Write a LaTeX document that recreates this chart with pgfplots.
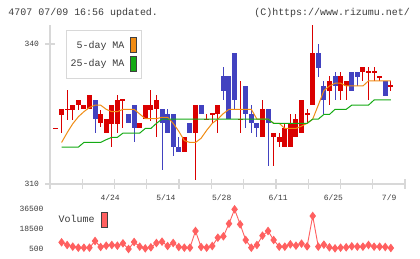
\documentclass[border=0pt]{standalone}
\usepackage{fontspec}
\usepackage{pgfplots}
\usepackage{pgfplotstable}
\pgfplotsset{compat=1.18}
\newfontfamily\mono{Liberation Mono}
\newcommand\monosmall{\mono\fontsize{8}{9}\selectfont}
\newcommand\monolarge{\mono\fontsize{10}{12}\selectfont}

\definecolor{upred}{RGB}{218,0,0}
\definecolor{downblue}{RGB}{66,66,192}
\definecolor{maorange}{RGB}{240,140,20}
\definecolor{magreen}{RGB}{20,170,20}
\definecolor{volred}{RGB}{255,96,96}
\definecolor{axisgray}{RGB}{216,216,216}
\definecolor{txt}{RGB}{60,60,60}

% daily candles: index, open, high, low, close
\pgfplotstableread{
i o h l c
0 321.9 321.9 321.9 321.9
1 324.8 326.1 320.9 326.1
2 326.0 330.1 323.7 326.0
3 325.9 326.9 323.7 326.9
4 326.9 328.0 325.9 328.0
5 326.0 326.9 326.0 326.9
6 326.0 329.1 326.0 329.1
8 323.0 325.9 322.3 325.0
9 320.9 323.9 320.9 323.9
10 322.9 326.9 317.9 326.9
11 322.9 329.1 320.9 328.0
12 328.0 328.0 321.9 328.0
15 321.9 323.0 321.9 323.0
16 323.9 326.9 323.9 326.9
17 325.9 330.1 323.4 326.9
18 326.0 329.1 320.0 328.0
23 316.9 320.0 316.9 320.0
25 320.9 326.9 310.9 326.9
27 323.9 325.0 323.9 323.9
28 325.0 325.0 323.0 325.0
29 325.0 326.9 320.9 326.9
33 323.9 332.1 320.9 323.9
37 320.0 328.0 320.0 326.0
39 320.0 320.9 313.9 320.9
40 318.9 320.9 317.9 320.0
41 317.9 323.0 317.9 321.9
42 317.9 324.9 317.9 323.0
43 320.0 324.9 320.0 323.9
44 320.9 328.0 320.9 328.0
45 325.0 326.0 323.0 325.0
46 326.9 344.0 326.9 338.0
49 330.0 333.1 326.9 332.1
51 330.0 334.1 328.0 333.1
52 331.0 332.1 328.0 332.1
55 334.1 335.1 332.1 335.1
56 334.1 335.1 328.0 334.1
57 334.1 335.1 332.1 334.1
58 333.0 333.0 332.1 333.0
60 331.0 332.1 330.0 331.0
}\upcandles

\pgfplotstableread{
i o h l c
7 328.0 328.0 320.9 323.9
13 325.0 325.0 323.0 323.0
14 326.9 326.9 318.9 321.9
19 326.0 326.0 312.9 323.0
20 325.0 326.0 320.9 320.9
21 325.0 325.0 315.9 317.9
22 317.9 320.0 316.9 316.9
24 323.0 323.0 320.9 320.9
26 326.9 326.9 325.0 325.0
30 333.1 335.1 328.0 330.0
31 333.1 333.1 323.9 323.9
32 338.0 338.0 325.9 328.0
34 331.0 331.0 321.9 324.9
35 324.9 326.9 321.0 323.0
36 323.0 323.0 320.0 321.9
38 326.0 326.0 313.9 323.0
47 338.0 340.0 333.0 334.9
48 331.0 332.1 324.9 328.0
50 333.1 334.1 328.0 331.0
53 334.1 334.1 330.0 330.0
54 334.1 334.1 331.0 333.0
59 332.1 332.1 328.9 328.9
}\downcandles

% 5-day moving average
\pgfplotstableread{
i v
1 318.9
2 321.0
3 322.9
4 324.4
5 325.5
6 326.4
7 326.9
8 326.9
9 326.0
10 325.5
11 325.5
12 326.0
13 326.0
14 326.0
15 325.0
16 324.0
17 324.0
18 324.0
19 324.3
20 324.3
21 323.0
22 321.3
23 319.3
24 318.9
25 318.9
26 319.8
27 321.5
28 323.0
29 323.9
30 325.1
31 326.0
32 326.0
33 326.0
34 326.0
35 326.0
36 323.9
37 323.9
38 323.9
39 323.0
40 323.0
41 321.9
42 321.9
43 321.9
44 322.4
45 323.0
46 323.9
47 326.9
48 330.0
49 331.0
50 331.6
51 331.6
52 331.0
53 331.0
54 331.0
55 331.0
56 332.1
57 332.1
58 332.1
59 332.1
60 332.1
}\mafive

% 25-day moving average
\pgfplotstableread{
i v
1 317.9
4 317.9
5 318.9
8 318.9
9 319.5
10 320.0
11 320.0
12 320.9
15 320.9
16 321.9
17 321.9
18 323.0
19 323.9
38 323.9
39 323.0
45 323.0
46 323.9
47 323.9
48 324.9
49 324.9
50 326.0
52 326.0
53 326.9
56 326.9
57 328.0
60 328.0
}\matwentyfive

% daily volume
\pgfplotstableread{
i v
1 6500
2 4100
3 2600
4 1700
5 1700
6 1700
7 7700
8 2300
9 3500
10 4100
11 3500
12 5600
13 500
14 6800
15 2600
16 1100
17 2000
18 5900
19 7100
20 3200
21 5900
22 2300
23 1700
24 1700
25 16700
26 2300
27 1700
28 3200
29 10700
30 11900
31 23300
32 36200
33 22700
34 8600
35 1700
36 4100
37 12500
38 16700
39 8600
40 2600
41 2600
42 4700
43 3500
44 5300
45 2900
46 30200
47 2600
48 4400
49 2000
50 1100
51 1700
52 2000
53 2900
54 2600
55 2600
56 4100
57 2600
58 2600
59 2300
60 1400
}\volume

\pgfplotsset{
  candle wick/.style={draw=none, mark=none, forget plot,
    error bars/.cd, y dir=both, y explicit,
    error bar style={draw=#1, line width=1bp}, error mark=none},
  candle body/.style={draw=none, mark=none, forget plot,
    error bars/.cd, y dir=both, y explicit,
    error bar style={draw=#1, line width=5bp}, error mark=none},
}

\begin{document}
\begin{tikzpicture}
\path[use as bounding box, fill=white] (0bp,0bp) rectangle (420bp,259bp);

\node[anchor=west, font=\monolarge, text=txt, inner sep=0] at (8.3bp,246.5bp) {4707 07/09 16:56 updated.};
\node[anchor=east, font=\monolarge, text=txt, inner sep=0] at (410bp,246.5bp) {(C)https://www.rizumu.net/};

% price panel
\begin{axis}[
  at={(50bp,75bp)}, anchor=south west,
  width=355bp, height=159bp, scale only axis,
  xmin=-1.075, xmax=62.54, ymin=310, ymax=344.07,
  axis x line=bottom, axis y line=left,
  axis line style={draw=axisgray, line width=1.2bp, -},
  xtick={-1.075,4.708,10.491,16.275,22.058,27.841,33.624,39.407,45.191,50.974,56.757,62.54},
  xticklabels={},
  extra x ticks={9.7,19.7,29.7,39.8,49.7,59.7},
  extra x tick labels={4/24,5/14,5/28,6/11,6/25,7/9},
  extra x tick style={major tick length=0pt},
  ytick={310,340}, yticklabels={310,340},
  scaled ticks=false,
  tick align=center, major tick length=9bp,
  tick style={draw=axisgray, line width=1.2bp},
  ticklabel style={font=\monosmall, text=txt},
  xticklabel style={yshift=-7bp},
  yticklabel style={xshift=-3bp},
  clip=false,
  legend plot pos=right,
  legend cell align=right,
  legend style={at={(rel axis cs:0.044,0.969)}, anchor=north west,
    draw=axisgray, line width=1bp, fill=white, font=\monolarge, text=txt,
    inner xsep=4.5bp, inner ysep=7bp, row sep=2.3bp, column sep=5.5bp,
    nodes={inner sep=0bp}},
]
% wicks
\addplot[candle wick=upred]
  table[x=i, y expr=(\thisrow{h}+\thisrow{l})/2, y error expr=(\thisrow{h}-\thisrow{l})/2] {\upcandles};
\addplot[candle wick=downblue]
  table[x=i, y expr=(\thisrow{h}+\thisrow{l})/2, y error expr=(\thisrow{h}-\thisrow{l})/2] {\downcandles};
% bodies
\addplot[candle body=upred]
  table[x=i, y expr=(\thisrow{o}+\thisrow{c})/2, y error expr={max(abs(\thisrow{c}-\thisrow{o})/2,0.107)}] {\upcandles};
\addplot[candle body=downblue]
  table[x=i, y expr=(\thisrow{o}+\thisrow{c})/2, y error expr={max(abs(\thisrow{c}-\thisrow{o})/2,0.107)}] {\downcandles};
% moving averages
\addplot[maorange, line width=1bp, mark=none,
  legend image code/.code={\draw[fill=maorange, draw=black!75, line width=0.8bp] (0bp,-7.5bp) rectangle (6bp,7.5bp);}]
  table[x=i, y=v] {\mafive};
\addlegendentry{5-day MA}
\addplot[magreen, line width=1bp, mark=none,
  legend image code/.code={\draw[fill=magreen, draw=black!75, line width=0.8bp] (0bp,-7.5bp) rectangle (6bp,7.5bp);}]
  table[x=i, y=v] {\matwentyfive};
\addlegendentry{25-day MA}
\end{axis}

% volume panel
\begin{axis}[
  at={(50bp,7bp)}, anchor=south west,
  width=355bp, height=47bp, scale only axis,
  xmin=-1.075, xmax=62.54, ymin=-2200, ymax=40100,
  axis x line=none, axis y line=left,
  y axis line style={draw=none},
  ytick={500,18500,36500}, yticklabels={500,18500,36500},
  scaled ticks=false,
  ytick style={draw=none}, major tick length=0pt,
  ticklabel style={font=\monosmall, text=txt},
  yticklabel style={xshift=-3bp},
  clip=false,
  legend plot pos=right,
  legend style={at={(rel axis cs:0.024,0.86)}, anchor=north west,
    draw=none, fill=none, font=\monolarge, text=txt, inner sep=0bp,
    column sep=6.5bp, nodes={inner sep=0bp}},
]
\addplot[volred, line width=0.9bp, mark=diamond*, mark size=3.6bp,
  mark options={solid, fill=volred, draw=volred},
  legend image code/.code={\draw[fill=volred, draw=black!75, line width=0.8bp] (0bp,-7.5bp) rectangle (6bp,7.5bp);}]
  table[x=i, y=v] {\volume};
\addlegendentry{Volume}
\end{axis}
\end{tikzpicture}
\end{document}
